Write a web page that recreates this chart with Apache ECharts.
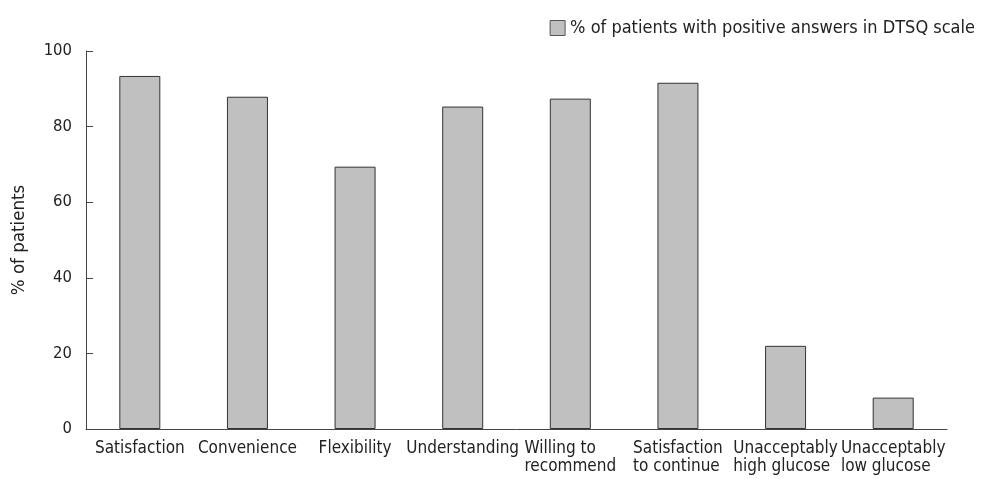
<!DOCTYPE html>
<html><head><meta charset="utf-8">
<script src="https://cdn.jsdelivr.net/npm/echarts@6/dist/echarts.min.js"></script>
<style>html,body{margin:0;padding:0;background:#fff}#c{width:984px;height:479px}</style>
</head><body><div id="c"></div>
<script>
const categories = ["Satisfaction","Convenience","Flexibility","Understanding","Willing to\nrecommend","Satisfaction\nto continue","Unacceptably\nhigh glucose","Unacceptably\nlow glucose"];
const values = [93.4, 87.9, 69.4, 85.3, 87.4, 91.6, 22.0, 8.3];
const yTicks = [0, 20, 40, 60, 80, 100];
const seriesName = "% of patients with positive answers in DTSQ scale";
const yTitle = "% of patients";

const font = "'DejaVu Sans Condensed', 'DejaVu Sans'";
const chart = echarts.init(document.getElementById('c'), null, {renderer:'canvas'});
chart.setOption({
  animation:false,
  backgroundColor:'#fff',
  textStyle:{fontFamily:font},
  legend:{
    data:[{name:seriesName, itemStyle:{color:'#bfc0bf', borderColor:'#555', borderWidth:1}}],
    right:4, top:14, itemWidth:15, itemHeight:15, itemGap:6,
    textStyle:{fontFamily:font, fontSize:18, color:'#222'},
    icon:'rect'
  },
  grid:{left:86, right:37, top:51, bottom:50, containLabel:false},
  xAxis:{
    type:'category', data:categories,
    axisLine:{lineStyle:{color:'#444', width:1}},
    axisTick:{show:false},
    axisLabel:{
      interval:0, color:'#222', fontFamily:font, fontSize:17, margin:11,
      formatter:function(v){return v.split('\n').map(function(s){return '{l|'+s+'}';}).join('\n');},
      rich:{l:{align:'left', fontFamily:font, fontSize:17, color:'#222', lineHeight:18}}
    }
  },
  yAxis:{
    type:'value', min:yTicks[0], max:yTicks[yTicks.length-1], interval:20,
    name:yTitle, nameLocation:'middle', nameGap:57, nameRotate:90,
    nameTextStyle:{fontFamily:font, fontSize:18.5, color:'#222'},
    axisLine:{show:true, lineStyle:{color:'#444', width:1}},
    axisTick:{show:true, inside:true, length:7, lineStyle:{color:'#444'}},
    axisLabel:{color:'#222', fontFamily:font, fontSize:16.5, margin:14},
    splitLine:{show:false}
  },
  series:[{
    name:seriesName, type:'bar', data:values, barWidth:41,
    itemStyle:{color:'#bfc0bf', borderColor:'#333', borderWidth:1}
  }]
});
</script></body></html>
